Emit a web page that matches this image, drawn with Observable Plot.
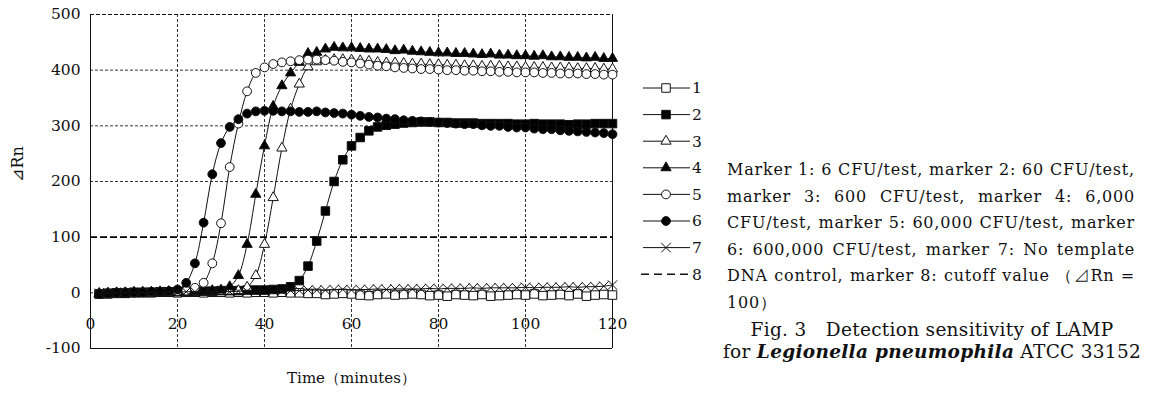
<!DOCTYPE html>
<html><head><meta charset="utf-8">
<script src="https://cdn.jsdelivr.net/npm/d3@7"></script>
<script src="https://cdn.jsdelivr.net/npm/@observablehq/plot@0.6"></script>
<style>
body{margin:0;background:#fff;width:1150px;height:394px;overflow:hidden;position:relative;font-family:'DejaVu Serif',serif;color:#111;}
#chart{position:absolute;left:0;top:0;}
#legend{position:absolute;left:0;top:0;}
.txt{position:absolute;left:727px;top:157px;width:408px;font-size:16px;letter-spacing:0.8px;}
.txt div{height:26.5px;line-height:26.5px;text-align:justify;text-align-last:justify;}
.txt div.last{text-align-last:left;}
.cap{position:absolute;left:702px;top:319px;width:460px;font-size:18.5px;line-height:22px;text-align:center;letter-spacing:0.3px;}
</style></head>
<body>
<div id="chart"></div>
<svg id="legend" width="1150" height="394"></svg>
<div class="txt" id="txt"></div>
<div class="cap" id="cap"></div>
<script>
const times = [2,4,6,8,10,12,14,16,18,20,22,24,26,28,30,32,34,36,38,40,42,44,46,48,50,52,54,56,58,60,62,64,66,68,70,72,74,76,78,80,82,84,86,88,90,92,94,96,98,100,102,104,106,108,110,112,114,116,118,120];
const s1 = [-2,-2,-1,-1,0,0,0,1,1,0,1,1,0,1,1,0,1,0,1,1,0,1,0,
  0,-1,-1,-3,-2,-1,-2,-4,-5,-3,-2,-4,-3,-2,-3,-5,-4,-6,-3,-4,-5,-3,-6,-5,-4,-3,-4,-2,-5,-4,-3,-5,-2,-6,-4,-3,-4];
const s2 = [-2,-1,0,0,1,1,1,2,2,2,3,3,3,3,4,4,4,5,5,5,6,7,
  11,22,48,93,147,200,239,264,279,
  291,298,301,303,305,306,307,307,306,
  306,305,305,305,304,304,304,304,303,303,304,303,303,303,302,303,303,304,304,304];
const s3 = [-1,-1,0,0,0,1,1,1,2,2,2,2,3,3,3,3,4,10,
  31,87,171,260,330,375,406,415,418,
  419,419,418,417,416,414,413,413,412,411,411,410,410,
  409,409,408,408,407,407,407,406,406,405,405,405,404,404,404,403,403,403,402,402];
const s4 = [-2,-1,0,0,1,1,1,2,2,2,3,3,3,4,5,11,
  31,87,177,264,335,372,395,414,430,
  432,438,441,440,440,439,438,438,437,
  435,436,434,433,432,431,
  431,430,430,429,428,429,427,427,426,426,425,426,424,424,423,423,422,423,421,421];
const s5 = [-1,0,0,1,0,1,1,2,2,3,4,
  9,18,53,125,226,304,362,395,405,
  411,414,416,418,419,419,418,417,415,
  414,412,410,408,407,405,404,403,402,402,401,
  400,400,399,399,398,398,397,397,396,396,396,395,395,394,394,394,393,393,392,392];
const s6 = [-2,-1,0,0,1,1,2,2,3,
  6,18,53,126,213,269,298,312,322,
  326,327,327,326,326,325,325,326,324,
  323,322,320,318,316,315,313,312,310,
  309,308,307,306,
  305,304,303,303,301,300,300,298,297,297,295,294,294,292,291,290,289,288,287,285];
const s7 = [-1,0,0,1,0,1,1,1,2,1,2,2,2,2,3,2,3,3,3,3,4,3,4,
  4,5,5,5,6,6,5,6,6,7,6,7,7,7,7,8,7,8,8,8,9,8,9,9,9,9,10,9,10,10,10,11,10,11,11,12,14];
const cutoff = 100;
const seriesNames = ["1","2","3","4","5","6","7","8"];
const xTicks = [0,20,40,60,80,100,120];
const yTicks = [-100,0,100,200,300,400,500];
const xGrid = [20,40,60,80,100];
const yGrid = [0,200,300,400];
const textLines = [
  "Marker 1: 6 CFU/test, marker 2: 60 CFU/test,",
  "marker 3: 600 CFU/test, marker 4: 6,000",
  "CFU/test, marker 5: 60,000 CFU/test, marker",
  "6: 600,000 CFU/test, marker 7: No template",
  "DNA control, marker 8: cutoff value \uFF08\u22BFRn =",
  "100\uFF09"
];
const FONT = "'DejaVu Serif', serif";

const styles = [
  {symbol:"square", fill:"white", r:4.8},
  {symbol:"square", fill:"black", r:4.8},
  {symbol:"triangle", fill:"white", r:3.8},
  {symbol:"triangle", fill:"black", r:3.8},
  {symbol:"circle", fill:"white", r:4.4},
  {symbol:"circle", fill:"black", r:4.4},
  {symbol:"times", fill:"none", r:4.4}
];
const allSeries = [s1,s2,s3,s4,s5,s6,s7];
const seriesMarks = [];
allSeries.forEach((vals, i) => {
  const data = times.map((t, j) => ({t, v: vals[j]}));
  seriesMarks.push(Plot.line(data, {x:"t", y:"v", curve:"catmull-rom", stroke:"#111", strokeWidth:1}));
  seriesMarks.push(Plot.dot(data, {x:"t", y:"v", symbol:styles[i].symbol, r:styles[i].r,
    fill:styles[i].fill, stroke:"#111", strokeWidth:1}));
});

const plot = Plot.plot({
  width: 640, height: 394,
  marginLeft: 90, marginRight: 28, marginTop: 14, marginBottom: 46,
  x: {domain:[0,120], axis:null},
  y: {domain:[-100,500], axis:null},
  style: {fontFamily:FONT, color:"#111", background:"white", overflow:"visible"},
  marks: [
    Plot.gridX(xGrid, {stroke:"#333", strokeOpacity:1, strokeDasharray:"3,2"}),
    Plot.gridY(yGrid, {stroke:"#333", strokeOpacity:1, strokeDasharray:"3,2"}),
    Plot.ruleY([500], {stroke:"#111", strokeDasharray:"4,2"}),
    Plot.ruleY([-100], {stroke:"#111"}),
    Plot.ruleX([0,120], {stroke:"#111"}),
    Plot.ruleY([cutoff], {stroke:"#000", strokeWidth:1.8, strokeDasharray:"7,3"}),
    ...seriesMarks,
    Plot.text(yTicks, {x:0, y:d=>d, text:d=>String(d), textAnchor:"end", dx:-10, fontSize:15.5, fontFamily:FONT}),
    Plot.text(xTicks, {x:d=>d, y:0, text:d=>String(d), dy:31, fontSize:15.5, fontFamily:FONT}),
    Plot.text(["Time\uFF08minutes\uFF09"], {frameAnchor:"bottom", dy:34, fontSize:15, fontFamily:FONT}),
    Plot.text(["\u22BFRn"], {frameAnchor:"left", dx:-73, rotate:-90, fontSize:16, fontFamily:FONT})
  ]
});
document.getElementById("chart").appendChild(plot);

// legend
const lg = d3.select("#legend");
const symMap = {square:d3.symbolSquare, triangle:d3.symbolTriangle, circle:d3.symbolCircle, times:d3.symbolTimes};
seriesNames.forEach((name, i) => {
  const y = 88 + i*26.6;
  const g = lg.append("g");
  if (i < 7) {
    g.append("line").attr("x1",643).attr("x2",690).attr("y1",y).attr("y2",y).attr("stroke","#111").attr("stroke-width",1);
    const st = styles[i];
    g.append("path").attr("transform",`translate(666,${y})`)
      .attr("d", d3.symbol(symMap[st.symbol], Math.PI*st.r*st.r)())
      .attr("fill", st.fill).attr("stroke","#111").attr("stroke-width",1);
  } else {
    g.append("line").attr("x1",641).attr("x2",690).attr("y1",y).attr("y2",y).attr("stroke","#111").attr("stroke-width",1.6).attr("stroke-dasharray","8,5");
  }
  g.append("text").attr("x",692).attr("y",y).attr("dy","0.35em").attr("font-size",15.5)
    .attr("font-family",FONT).attr("fill","#111").text(name);
});

const txt = document.getElementById("txt");
textLines.forEach((l, i) => {
  const d = document.createElement("div");
  d.textContent = l;
  if (i === textLines.length - 1) d.className = "last";
  txt.appendChild(d);
});
document.getElementById("cap").innerHTML =
  "Fig. 3\u3000Detection sensitivity of LAMP<br>for <b><i>Legionella pneumophila</i></b> ATCC 33152";
</script>
</body></html>
